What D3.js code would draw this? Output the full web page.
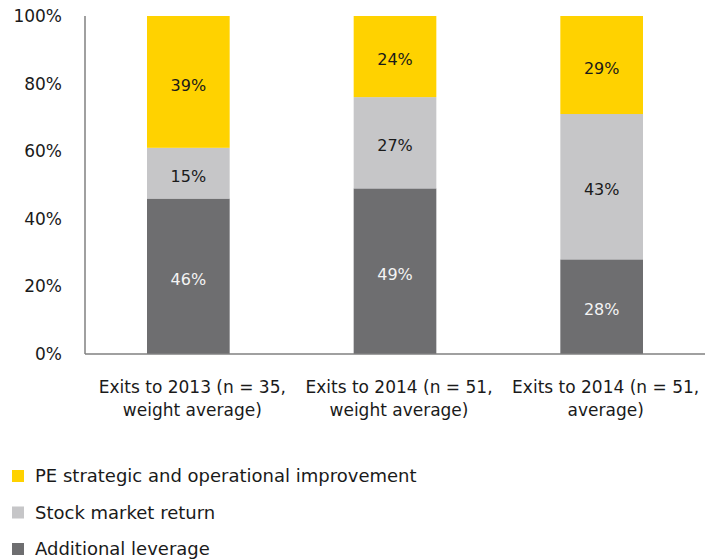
<!DOCTYPE html>
<html>
<head>
<meta charset="utf-8">
<script src="https://cdn.jsdelivr.net/npm/d3@7"></script>
<style>
  body { margin: 0; background: #fff; overflow: hidden; }
  text { font-family: "DejaVu Sans", sans-serif; }
</style>
</head>
<body>
<div id="chart"></div>
<script>
const categories = [
  ['Exits to 2013 (n = 35,', 'weight average)'],
  ['Exits to 2014 (n = 51,', 'weight average)'],
  ['Exits to 2014 (n = 51,', 'average)']
];
const seriesNames = ['Additional leverage', 'Stock market return', 'PE strategic and operational improvement'];
const leverage = [46, 49, 28];
const stockMarket = [15, 27, 43];
const peImprovement = [39, 24, 29];
const yTicks = [0, 20, 40, 60, 80, 100];

const colors = ['#6e6e70', '#c6c6c8', '#ffd200'];
const labelColors = ['#f4f4f4', '#1a1a1a', '#1a1a1a'];

const width = 714, height = 560;
const margin = { top: 16, right: 9, bottom: 206, left: 85 };
const innerWidth = width - margin.left - margin.right;
const innerHeight = height - margin.top - margin.bottom;

const rows = categories.map((c, i) => ({
  idx: i,
  s0: leverage[i],
  s1: stockMarket[i],
  s2: peImprovement[i]
}));
const stack = d3.stack().keys(['s0', 's1', 's2'])(rows);

const x = d3.scaleBand()
  .domain(d3.range(categories.length))
  .range([0, innerWidth])
  .paddingInner(0.6)
  .paddingOuter(0.3);

const y = d3.scaleLinear().domain([0, 100]).range([innerHeight, 0]);

const svg = d3.select('#chart').append('svg')
  .attr('width', width)
  .attr('height', height)
  .style('display', 'block');

const g = svg.append('g').attr('transform', `translate(${margin.left},${margin.top})`);

// bars
stack.forEach((layer, si) => {
  g.selectAll(null)
    .data(layer)
    .enter().append('rect')
    .attr('x', d => x(d.data.idx))
    .attr('y', d => y(d[1]))
    .attr('width', x.bandwidth())
    .attr('height', d => y(d[0]) - y(d[1]))
    .style('fill', colors[si]);

  g.selectAll(null)
    .data(layer)
    .enter().append('text')
    .attr('x', d => x(d.data.idx) + x.bandwidth() / 2)
    .attr('y', d => y((d[0] + d[1]) / 2) + 3)
    .attr('dy', '0.35em')
    .attr('text-anchor', 'middle')
    .style('font-size', '16px')
    .style('fill', labelColors[si])
    .text(d => (d[1] - d[0]) + '%');
});

// axes
g.append('line')
  .attr('x1', 0).attr('x2', 0)
  .attr('y1', 0).attr('y2', innerHeight)
  .style('stroke', '#808080').style('stroke-width', 1.5);
g.append('line')
  .attr('x1', 0).attr('x2', innerWidth)
  .attr('y1', innerHeight).attr('y2', innerHeight)
  .style('stroke', '#808080').style('stroke-width', 1.5);

g.selectAll('.ytick')
  .data(yTicks)
  .enter().append('text')
  .attr('x', -23)
  .attr('y', d => y(d))
  .attr('dy', '0.35em')
  .attr('text-anchor', 'end')
  .style('font-size', '17px')
  .style('fill', '#1a1a1a')
  .text(d => d + '%');

categories.forEach((lines, i) => {
  const t = g.append('text')
    .attr('text-anchor', 'middle')
    .style('font-size', '17px')
    .style('fill', '#1a1a1a');
  lines.forEach((line, li) => {
    t.append('tspan')
      .attr('x', x(i) + x.bandwidth() / 2 + 4)
      .attr('y', innerHeight + 39 + li * 23)
      .text(line);
  });
});

// legend
const legendOrder = [2, 1, 0];
const legend = svg.append('g').attr('transform', 'translate(12,470)');
legendOrder.forEach((si, k) => {
  const row = legend.append('g').attr('transform', `translate(0,${k * 36.5})`);
  row.append('rect').attr('width', 12).attr('height', 12).style('fill', colors[si]);
  row.append('text')
    .attr('x', 23).attr('y', 6).attr('dy', '0.35em')
    .style('font-size', '18px')
    .style('fill', '#1a1a1a')
    .text(seriesNames[si]);
});
</script>
</body>
</html>
